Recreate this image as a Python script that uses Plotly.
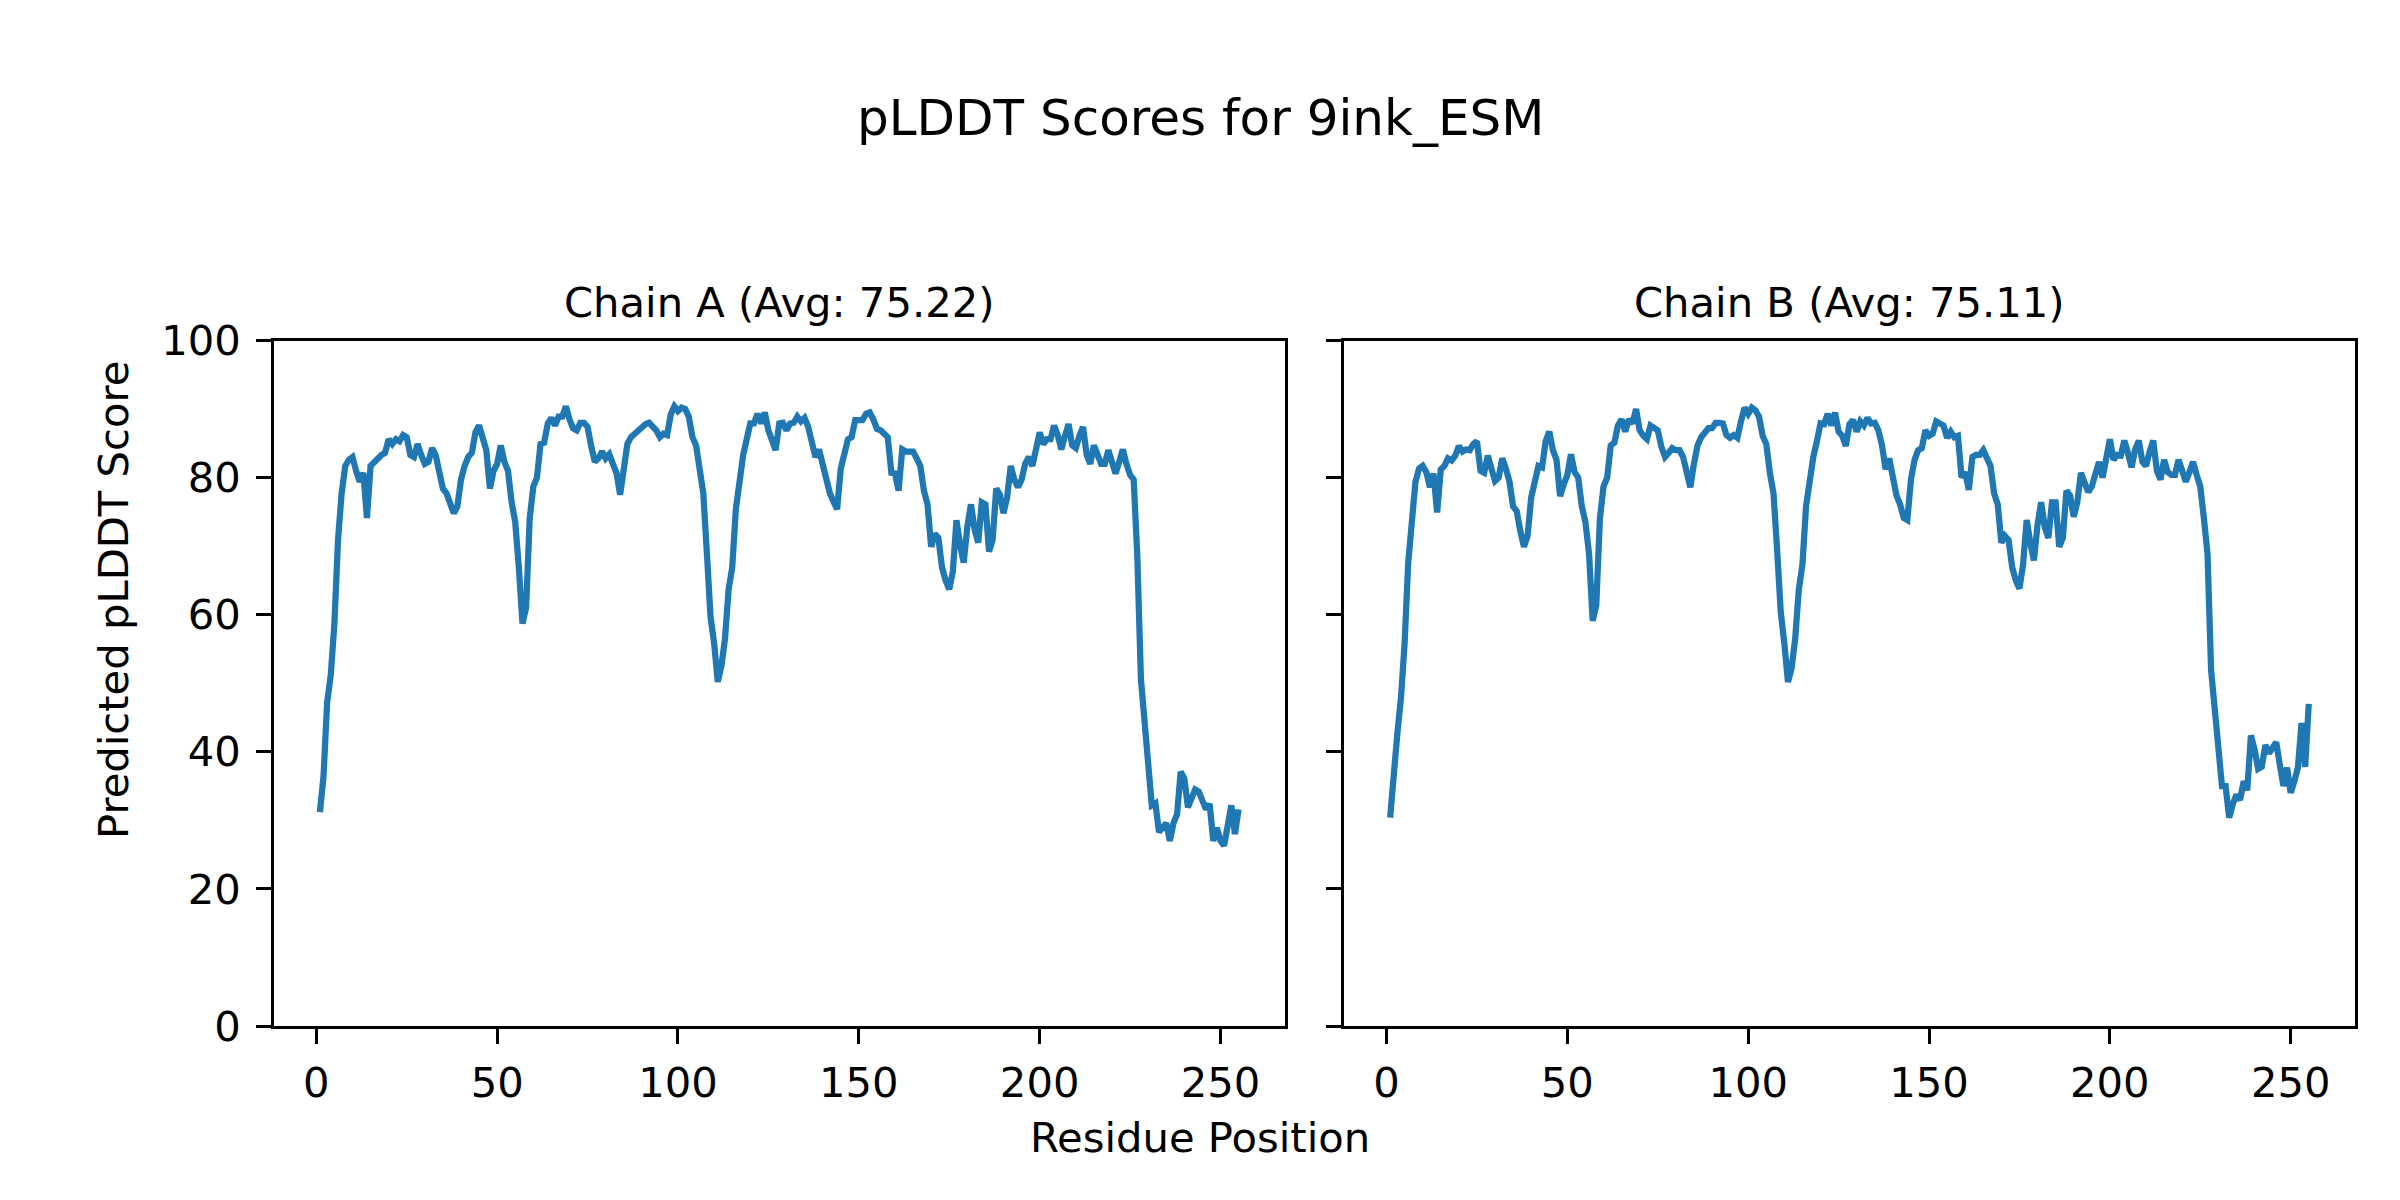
import plotly.graph_objects as go

# Residue positions (1..255)
residues = list(range(1, 256))

chain_a = [
    31.2, 36.5, 47.3, 51.2, 58.7, 70.9, 77.7, 81.7, 82.6, 83.0,
    81.0, 79.4, 80.7, 74.1, 81.7, 82.3, 82.6, 83.3, 83.6, 85.6,
    84.9, 85.6, 85.3, 86.2, 85.9, 83.3, 83.0, 84.9, 83.3, 82.0,
    82.3, 84.3, 83.3, 81.0, 78.4, 77.7, 76.4, 74.8, 75.8, 79.7,
    81.7, 83.0, 83.6, 86.6, 87.6, 85.6, 84.0, 78.4, 81.0, 82.0,
    84.7, 82.3, 81.0, 76.4, 73.5, 66.9, 58.7, 61.0, 74.0, 78.7,
    80.0, 84.9, 85.1, 87.9, 88.7, 87.6, 88.9, 88.9, 90.4, 88.5,
    87.2, 86.9, 88.0, 88.0, 87.4, 84.6, 82.3, 82.8, 83.8, 82.8,
    83.4, 82.0, 80.7, 77.5, 82.0, 84.9, 85.9, 86.4, 87.1, 87.4,
    87.8, 88.0, 87.4, 86.9, 85.9, 86.4, 86.2, 89.2, 90.4, 89.7,
    90.2, 90.0, 88.9, 85.9, 84.7, 80.7, 77.7, 68.9, 59.7, 55.8,
    50.2, 52.5, 56.5, 63.7, 66.9, 75.4, 80.0, 83.2, 85.6, 87.9,
    87.9, 89.3, 87.9, 89.5, 86.9, 85.6, 84.0, 87.9, 88.0, 86.9,
    87.9, 88.0, 88.9, 88.2, 88.7, 87.4, 85.6, 83.0, 84.1, 81.7,
    79.4, 77.7, 76.5, 75.4, 81.3, 84.0, 85.6, 85.9, 88.4, 88.4,
    88.4, 89.3, 89.5, 88.5, 87.1, 86.9, 86.5, 85.9, 80.7, 80.6,
    78.1, 84.1, 83.8, 83.8, 83.8, 82.8, 81.7, 78.1, 76.1, 69.9,
    71.8, 71.2, 66.9, 65.0, 63.7, 66.3, 73.8, 70.2, 67.6, 72.8,
    76.1, 72.5, 70.5, 76.4, 76.1, 69.2, 70.9, 78.4, 77.5, 74.8,
    77.1, 81.7, 79.7, 78.6, 79.7, 82.0, 83.0, 81.7, 84.0, 86.6,
    84.9, 85.6, 85.6, 87.6, 86.2, 84.1, 86.1, 87.8, 84.7, 84.3,
    86.1, 87.4, 83.3, 82.0, 84.7, 83.2, 82.0, 82.0, 84.0, 82.3,
    80.6, 82.3, 84.1, 82.0, 80.4, 79.7, 68.6, 50.6, 44.0, 38.1,
    32.2, 32.5, 28.3, 28.9, 29.6, 27.0, 29.6, 30.9, 37.1, 36.1,
    31.9, 33.2, 34.5, 34.2, 32.9, 31.6, 32.4, 27.0, 28.9, 27.0,
    26.3, 28.9, 32.2, 28.0, 31.6,
]

chain_b = [
    30.4, 37.8, 42.7, 47.9, 55.8, 67.6, 74.5, 79.4, 81.3, 81.7,
    80.8, 78.6, 80.6, 74.9, 81.2, 81.7, 82.8, 82.5, 83.2, 84.6,
    83.8, 84.1, 84.0, 84.9, 85.3, 81.0, 80.7, 83.2, 81.3, 79.5,
    80.0, 82.8, 81.3, 79.4, 75.8, 75.1, 72.2, 69.9, 71.5, 77.1,
    79.4, 81.7, 81.5, 85.3, 86.7, 84.0, 82.6, 77.3, 79.0, 80.4,
    83.4, 80.8, 80.0, 75.8, 73.5, 68.9, 59.1, 61.4, 74.0, 78.7,
    80.0, 84.7, 85.1, 87.6, 88.5, 86.7, 88.5, 87.9, 90.0, 86.9,
    86.1, 85.6, 87.6, 87.1, 86.9, 84.5, 83.0, 83.6, 84.3, 84.0,
    84.0, 83.0, 80.7, 78.6, 82.0, 84.7, 85.9, 86.4, 87.2, 87.2,
    88.0, 88.0, 87.9, 86.2, 85.8, 86.2, 85.8, 88.2, 90.2, 89.3,
    90.2, 89.8, 88.9, 86.1, 84.9, 80.7, 77.7, 69.5, 60.4, 55.8,
    50.2, 52.2, 56.5, 63.7, 67.3, 75.8, 80.0, 83.0, 85.3, 87.9,
    87.8, 89.3, 87.6, 89.5, 86.7, 86.1, 84.6, 87.8, 88.4, 86.7,
    88.2, 87.6, 88.7, 87.9, 88.0, 86.9, 84.7, 81.2, 82.8, 80.0,
    77.4, 76.1, 74.1, 73.8, 79.7, 82.6, 84.0, 84.3, 86.9, 86.1,
    86.4, 88.2, 87.9, 87.6, 85.8, 86.7, 85.9, 86.1, 80.0, 80.8,
    78.2, 83.0, 83.3, 83.3, 84.0, 82.6, 81.7, 77.7, 76.1, 70.5,
    71.5, 70.9, 66.9, 65.0, 63.8, 67.3, 73.8, 70.5, 67.9, 73.1,
    76.4, 72.8, 71.2, 76.4, 76.4, 69.9, 71.2, 78.1, 77.4, 74.3,
    76.4, 80.7, 79.0, 77.9, 78.7, 81.0, 82.3, 80.0, 82.6, 85.6,
    82.6, 83.3, 83.2, 85.4, 83.6, 81.5, 84.1, 85.4, 82.3, 81.7,
    83.8, 85.4, 81.0, 79.7, 82.6, 80.8, 80.4, 80.4, 82.6, 80.7,
    79.4, 80.8, 82.3, 80.4, 78.7, 74.1, 68.9, 51.9, 46.0, 41.4,
    35.0, 35.0, 30.4, 32.4, 33.7, 33.0, 35.7, 34.4, 42.4, 40.4,
    37.5, 37.8, 41.0, 39.8, 40.8, 41.4, 38.1, 35.0, 37.7, 34.0,
    35.7, 37.7, 44.2, 37.8, 47.0,
]

chain_titles = ["Chain A (Avg: 75.22)", "Chain B (Avg: 75.11)"]
main_title = "pLDDT Scores for 9ink_ESM"
x_label = "Residue Position"
y_label = "Predicted pLDDT Score"
x_ticks = [0, 50, 100, 150, 200, 250]
y_ticks = [0, 20, 40, 60, 80, 100]

W, H = 2400, 1200
FONT = "DejaVu Sans"
TICK_PX = 41.7
TITLE_PX = 50
LINE_COLOR = "#1f77b4"

xdomA = [274 / W, 1284.5 / W]
xdomB = [1344.2 / W, 2354.7 / W]
ydom = [174 / H, 859.5 / H]

fig = go.Figure()
fig.add_trace(go.Scatter(x=residues, y=chain_a, mode="lines",
                         line=dict(color=LINE_COLOR, width=6.25),
                         xaxis="x", yaxis="y", showlegend=False, hoverinfo="skip"))
fig.add_trace(go.Scatter(x=residues, y=chain_b, mode="lines",
                         line=dict(color=LINE_COLOR, width=6.25),
                         xaxis="x2", yaxis="y2", showlegend=False, hoverinfo="skip"))

common = dict(
    showline=True, linecolor="black", linewidth=3.33, mirror=True,
    ticks="outside", ticklen=14.6, tickwidth=3.33, tickcolor="black",
    showgrid=False, zeroline=False, automargin=False,
    tickfont=dict(family=FONT, size=TICK_PX, color="black"),
)

xr = [-11.7, 267.7]
fig.update_layout(
    template="none",
    width=W, height=H, autosize=False,
    margin=dict(l=0, r=0, t=0, b=0, pad=0, autoexpand=False),
    paper_bgcolor="white", plot_bgcolor="white",
    font=dict(family=FONT, color="black"),
    xaxis=dict(domain=xdomA, range=xr, tickvals=x_ticks, anchor="y",
               ticklabelstandoff=3, **common),
    yaxis=dict(domain=ydom, range=[0, 100], tickvals=y_ticks, anchor="x",
               ticklabelstandoff=7, **common),
    xaxis2=dict(domain=xdomB, range=xr, tickvals=x_ticks, anchor="y2",
                ticklabelstandoff=3, **common),
    yaxis2=dict(domain=ydom, range=[0, 100], tickvals=y_ticks, anchor="x2",
                showticklabels=False, **common),
)

annotations = [
    dict(text=main_title, x=0.5, y=1 - 118 / H, xref="paper", yref="paper",
         xanchor="center", yanchor="middle", showarrow=False,
         font=dict(family=FONT, size=TITLE_PX, color="black")),
    dict(text=chain_titles[0], x=sum(xdomA) / 2, y=1 - 303 / H, xref="paper", yref="paper",
         xanchor="center", yanchor="middle", showarrow=False,
         font=dict(family=FONT, size=TICK_PX, color="black")),
    dict(text=chain_titles[1], x=sum(xdomB) / 2, y=1 - 303 / H, xref="paper", yref="paper",
         xanchor="center", yanchor="middle", showarrow=False,
         font=dict(family=FONT, size=TICK_PX, color="black")),
    dict(text=x_label, x=0.5, y=1 - 1137 / H, xref="paper", yref="paper",
         xanchor="center", yanchor="middle", showarrow=False,
         font=dict(family=FONT, size=TICK_PX, color="black")),
    dict(text=y_label, x=113 / W, y=0.5, xref="paper", yref="paper",
         xanchor="center", yanchor="middle", showarrow=False, textangle=-90,
         font=dict(family=FONT, size=TICK_PX, color="black")),
]
fig.update_layout(annotations=annotations)

fig.write_html("out.html", config={"displayModeBar": False},
               post_script="document.body.style.margin='0';document.body.style.overflow='hidden';")
